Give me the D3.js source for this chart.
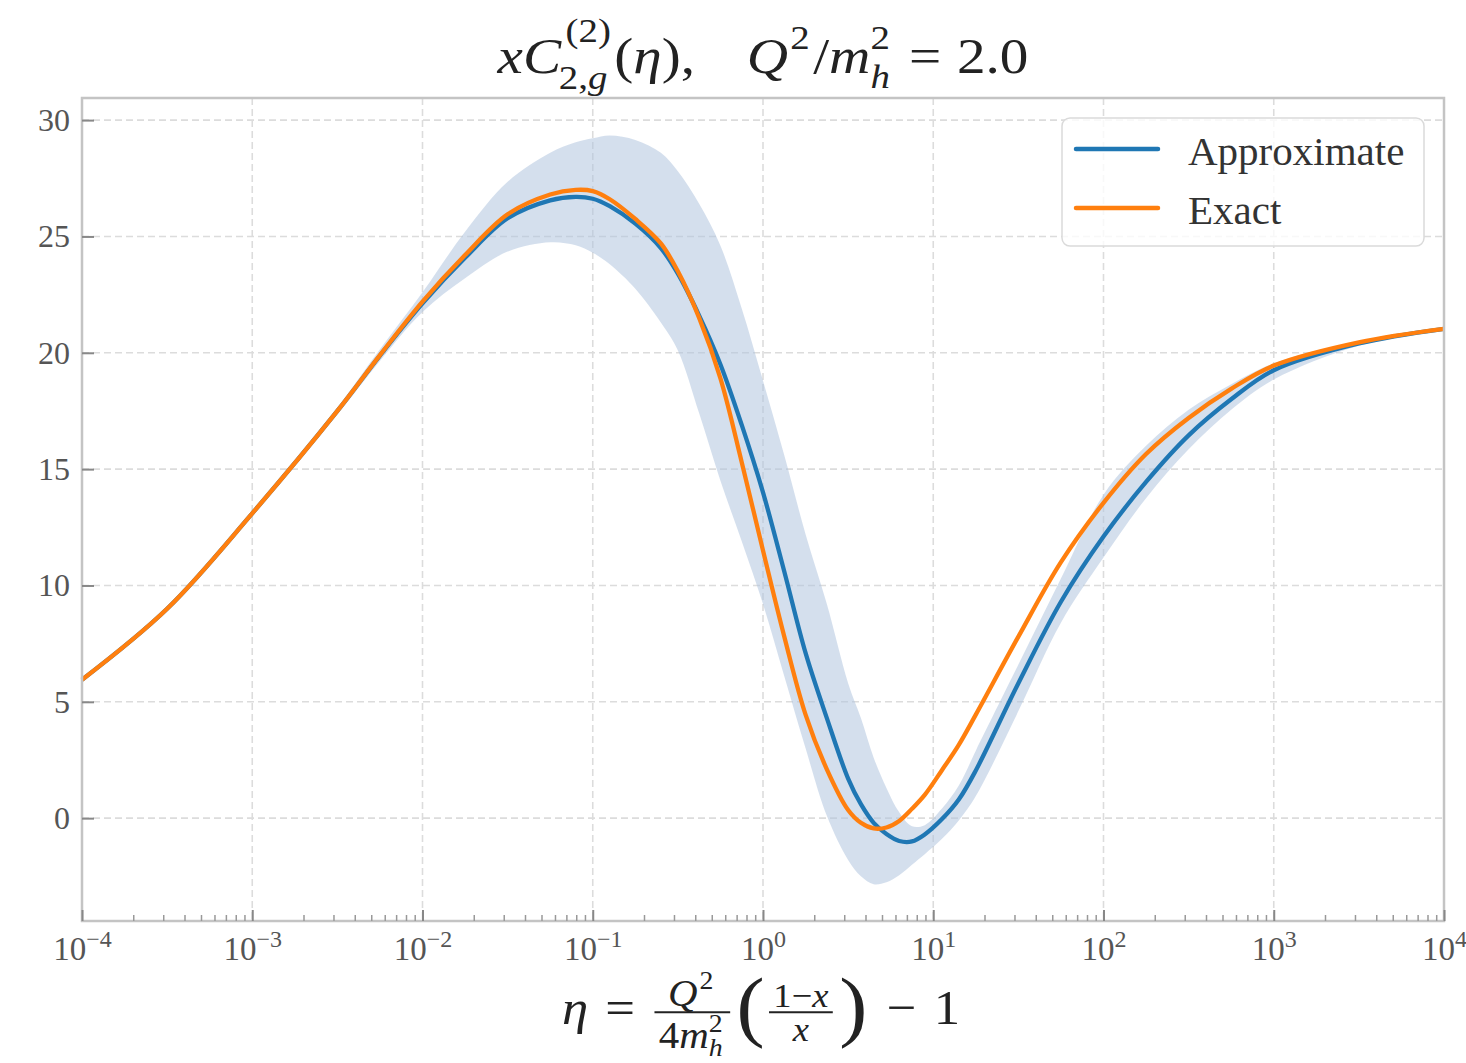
<!DOCTYPE html>
<html>
<head>
<meta charset="utf-8">
<script src="https://cdn.jsdelivr.net/npm/d3@7"></script>
<style>
  body { margin: 0; background: #fff; }
  svg text { font-family: "Liberation Serif", "DejaVu Serif", serif; }
</style>
</head>
<body>
<svg width="1466" height="1063"></svg>
<script>
// values, x given as log10(eta)
var logEta = [-4, -3.5, -3, -2.5, -2.25, -2, -1.75, -1.5, -1.25, -1.1, -1, -0.9, -0.75, -0.6, -0.5, -0.375, -0.25, -0.125,
              0, 0.125, 0.25, 0.375, 0.5, 0.575, 0.65, 0.725, 0.8, 0.875, 0.95, 1.05, 1.15, 1.25, 1.5, 1.75, 2, 2.25, 2.5, 2.75, 3, 3.5, 4];
var exact    = [5.95, 9.0, 13.1, 17.5, 19.9, 22.2, 24.2, 25.95, 26.8, 27.0, 26.95, 26.6, 25.75, 24.7, 23.5, 21.5, 18.9, 15.3,
                11.5, 7.8, 4.45, 2.1, 0.35, -0.2, -0.44, -0.4, -0.12, 0.4, 1.0, 2.05, 3.15, 4.45, 7.8, 11.0, 13.55, 15.65, 17.2, 18.45, 19.45, 20.45, 21.03];
var approx   = [5.95, 9.0, 13.1, 17.5, 19.88, 22.12, 24.08, 25.78, 26.55, 26.7, 26.62, 26.3, 25.55, 24.5, 23.4, 21.6, 19.5, 16.9,
                14.0, 10.6, 7.1, 4.3, 1.7, 0.6, -0.2, -0.68, -0.98, -1.0, -0.7, -0.05, 0.8, 2.05, 5.8, 9.3, 12.1, 14.45, 16.45, 18.0, 19.25, 20.4, 21.03];
var bandLow  = [5.95, 9.0, 13.05, 17.35, 19.65, 21.75, 23.2, 24.35, 24.75, 24.62, 24.3, 23.8, 22.75, 21.3, 20.1, 17.4, 14.5, 11.9,
                9.2, 6.1, 3.0, 0.1, -1.8, -2.5, -2.84, -2.75, -2.45, -2.0, -1.55, -0.9, -0.1, 0.95, 4.6, 8.4, 11.2, 13.75, 15.85, 17.55, 18.85, 20.3, 21.0];
var bandHigh = [5.95, 9.0, 13.15, 17.65, 20.15, 22.6, 25.2, 27.35, 28.6, 29.05, 29.22, 29.34, 29.15, 28.6, 27.8, 26.4, 24.6, 21.9,
                18.8, 15.6, 12.2, 9.2, 5.8, 4.3, 2.6, 1.3, 0.25, -0.35, -0.3, 0.4, 1.4, 2.9, 6.6, 10.3, 13.9, 16.0, 17.55, 18.65, 19.55, 20.5, 21.05];
var xTickExp = [-4, -3, -2, -1, 0, 1, 2, 3, 4];
var yTicks = [0, 5, 10, 15, 20, 25, 30];
var seriesNames = ["Approximate", "Exact"];
var seriesColors = ["#1f77b4", "#ff7f0e"];

var svg = d3.select("svg");
var pLeft = 82, pRight = 1444, pTop = 98, pBottom = 921;

var x = d3.scaleLog().domain([1e-4, 1e4]).range([pLeft, pRight]);
var y = d3.scaleLinear().domain([-4.42, 30.95]).range([pBottom, pTop]);

var pts = logEta.map(function(l, i) {
    return {eta: Math.pow(10, l), ex: exact[i], ap: approx[i], lo: bandLow[i], hi: bandHigh[i]};
});
var xMajor = xTickExp.map(function(e) { return Math.pow(10, e); });
var xMinor = [];
for (var d = -4; d < 4; d++) {
    for (var m = 2; m < 10; m++) xMinor.push(m * Math.pow(10, d));
}
var smooth = d3.curveCatmullRom.alpha(0.5);

// grid
var grid = svg.append("g");
grid.selectAll(".gx").data(xMajor).enter().append("line")
    .attr("x1", function(d) { return x(d); }).attr("x2", function(d) { return x(d); })
    .attr("y1", pTop).attr("y2", pBottom);
grid.selectAll(".gy").data(yTicks).enter().append("line")
    .attr("x1", pLeft).attr("x2", pRight)
    .attr("y1", function(d) { return y(d); }).attr("y2", function(d) { return y(d); });
grid.selectAll("line").attr("stroke", "#dcdcdc").attr("stroke-width", 1.6).attr("stroke-dasharray", "7,4");

// uncertainty band
svg.append("path").datum(pts)
    .attr("d", d3.area().x(function(d) { return x(d.eta); })
        .y0(function(d) { return y(d.lo); }).y1(function(d) { return y(d.hi); })
        .curve(smooth))
    .attr("fill", "#b0c4de").attr("fill-opacity", 0.55);

// curves
var lineAp = d3.line().x(function(d) { return x(d.eta); }).y(function(d) { return y(d.ap); }).curve(smooth);
var lineEx = d3.line().x(function(d) { return x(d.eta); }).y(function(d) { return y(d.ex); }).curve(smooth);
svg.append("path").datum(pts).attr("d", lineAp).attr("fill", "none")
    .attr("stroke", seriesColors[0]).attr("stroke-width", 4.3).attr("stroke-linejoin", "round");
svg.append("path").datum(pts).attr("d", lineEx).attr("fill", "none")
    .attr("stroke", seriesColors[1]).attr("stroke-width", 4.3).attr("stroke-linejoin", "round");

// frame
svg.append("rect").attr("x", pLeft).attr("y", pTop).attr("width", pRight - pLeft).attr("height", pBottom - pTop)
    .attr("fill", "none").attr("stroke", "#c4c4c4").attr("stroke-width", 2.5);

// x axis (ticks inside)
var xMinorG = svg.append("g").attr("transform", "translate(0," + pBottom + ")")
    .call(d3.axisBottom(x).tickValues(xMinor).tickSize(-6).tickFormat(""));
xMinorG.select(".domain").remove();
xMinorG.selectAll(".tick line").attr("stroke", "#999").attr("stroke-width", 1.5);

var xAxisG = svg.append("g").attr("transform", "translate(0," + pBottom + ")")
    .call(d3.axisBottom(x).tickValues(xMajor).tickSize(-11).tickFormat(""));
xAxisG.select(".domain").remove();
xAxisG.selectAll(".tick line").attr("stroke", "#888").attr("stroke-width", 2);
xAxisG.selectAll(".tick").each(function(d, i) {
    var t = d3.select(this).select("text");
    t.attr("y", 39).attr("dy", null).attr("font-size", 33).style("fill", "#555");
    t.append("tspan").text("10");
    t.append("tspan").attr("font-size", 24).attr("dy", -13)
        .text(xTickExp[i] < 0 ? "\u2212" + (-xTickExp[i]) : String(xTickExp[i]));
});

// y axis
var yAxisG = svg.append("g").attr("transform", "translate(" + pLeft + ",0)")
    .call(d3.axisLeft(y).tickValues(yTicks).tickSize(-12).tickPadding(12));
yAxisG.select(".domain").remove();
yAxisG.selectAll(".tick line").attr("stroke", "#888").attr("stroke-width", 2);
yAxisG.selectAll(".tick text").attr("font-size", 32).style("fill", "#555");

// legend
var leg = svg.append("g");
leg.append("rect").attr("x", 1062).attr("y", 118).attr("width", 362).attr("height", 128).attr("rx", 8)
    .attr("fill", "#fff").attr("fill-opacity", 0.8).attr("stroke", "#dadada").attr("stroke-width", 1.5);
seriesNames.forEach(function(name, i) {
    var ly = 149 + i * 59;
    leg.append("line").attr("x1", 1076).attr("x2", 1158).attr("y1", ly).attr("y2", ly)
        .attr("stroke", seriesColors[i]).attr("stroke-width", 4.5).attr("stroke-linecap", "round");
    leg.append("text").attr("x", 1188).attr("y", ly + 16).attr("font-size", 41).style("fill", "#333").text(name);
});

// small math layout helper for title and x label
function put(g, items, fs) {
    var cx = 0;
    items.forEach(function(it) {
        if (it.gap) { cx += it.gap; return; }
        if (it.t != null) {
            var el = g.append("text").attr("x", cx).attr("y", it.dy || 0)
                .attr("font-size", (it.scale || 1) * fs)
                .style("font-style", it.it ? "italic" : "normal").style("fill", "#222")
                .text(it.t);
            cx += el.node().getComputedTextLength() + (it.kern || 0);
            return;
        }
        if (it.sup || it.sub) {
            var s = fs * 0.68, w = 0;
            if (it.sup) {
                var gs = g.append("g").attr("transform", "translate(" + (cx + (it.supDx || 0)) + "," + (-(it.supY != null ? it.supY : 0.45) * fs) + ")");
                w = Math.max(w, (it.supDx || 0) + put(gs, it.sup, s));
            }
            if (it.sub) {
                var sdx = it.subDx || 0;
                var gb = g.append("g").attr("transform", "translate(" + (cx + sdx) + "," + ((it.subY != null ? it.subY : 0.3) * fs) + ")");
                w = Math.max(w, sdx + put(gb, it.sub, s));
            }
            cx += w + 3;
            return;
        }
        if (it.num) {
            var s2 = it.fs;
            var gn = g.append("g"), gd = g.append("g");
            var wn = put(gn, it.num, s2), wd = put(gd, it.den, s2);
            var w2 = Math.max(wn, wd) + 8;
            var ax = -0.24 * fs;
            gn.attr("transform", "translate(" + (cx + (w2 - wn) / 2) + "," + (ax - 0.16 * s2) + ")");
            gd.attr("transform", "translate(" + (cx + (w2 - wd) / 2) + "," + (ax + (it.denY || 0.86) * s2) + ")");
            g.append("line").attr("x1", cx).attr("x2", cx + w2).attr("y1", ax).attr("y2", ax)
                .attr("stroke", "#222").attr("stroke-width", 1.8);
            cx += w2 + 6;
        }
    });
    return cx;
}

var title = svg.append("g");
var tw = put(title, [
    {t: "x", it: 1}, {t: "C", it: 1, kern: 2},
    {sup: [{t: "(2)"}], sub: [{t: "2,"}, {t: "g", it: 1}], supY: 0.6, subY: 0.32, supDx: 2, subDx: -4},
    {t: "("}, {t: "\u03b7", it: 1}, {t: "),"}, {gap: 46},
    {t: "Q", it: 1, kern: 2}, {sup: [{t: "2"}], supY: 0.48}, {t: "/"}, {t: "m", it: 1},
    {sup: [{t: "2"}], sub: [{t: "h", it: 1}], supY: 0.48, subY: 0.3},
    {gap: 14}, {t: "="}, {gap: 14}, {t: "2.0"}
], 51);
var titleW = 531;
title.attr("transform", "translate(" + (763 - titleW / 2) + ",73) scale(" + (titleW / tw) + ",1)");

var xlab = svg.append("g");
var xw = put(xlab, [
    {t: "\u03b7", it: 1}, {gap: 16}, {t: "="}, {gap: 18},
    {num: [{t: "Q", it: 1, kern: 2}, {sup: [{t: "2"}], supY: 0.45}],
     den: [{t: "4"}, {t: "m", it: 1}, {sup: [{t: "2"}], sub: [{t: "h", it: 1}], supY: 0.44, subY: 0.2}], fs: 38, denY: 0.95},
    {t: "(", scale: 1.6, dy: 8}, {gap: 4},
    {num: [{t: "1\u2212"}, {t: "x", it: 1}], den: [{t: "x", it: 1}], fs: 34},
    {t: ")", scale: 1.6, dy: 8}, {gap: 18}, {t: "\u2212"}, {gap: 16}, {t: "1"}
], 49);
var xlabW = 398;
xlab.attr("transform", "translate(" + (761 - xlabW / 2) + ",1024) scale(" + (xlabW / xw) + ",1)");
</script>
</body>
</html>
